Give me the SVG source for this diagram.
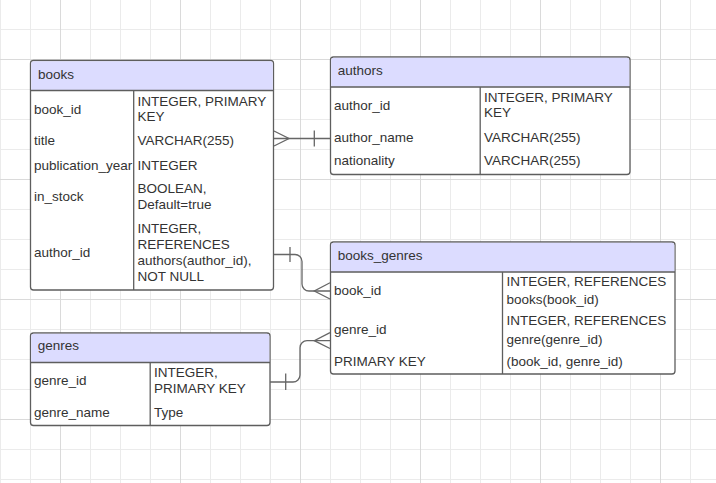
<svg xmlns="http://www.w3.org/2000/svg" width="716" height="483" viewBox="0 0 716 483">
<style>
.minor{stroke:#ebebeb;stroke-width:1;fill:none}
.major{stroke:#dadada;stroke-width:1;fill:none}
.box{fill:#ffffff;stroke:#5e5e5e;stroke-width:1.3}
.hdr{fill:#dcdcff;stroke:none}
.sep{stroke:#5e5e5e;stroke-width:1.3;fill:none}
.t{font-family:"Liberation Sans",Arial,sans-serif;font-size:13.5px;fill:#333333}
.conn{stroke:#666666;stroke-width:1.3;fill:none}
</style>
<rect x="0" y="0" width="716" height="483" fill="#ffffff"/>
<g id="grid">
<path class="minor" d="M0.5 0V483M30.5 0V483M90.5 0V483M120.5 0V483M150.5 0V483M210.5 0V483M240.5 0V483M270.5 0V483M330.5 0V483M360.5 0V483M390.5 0V483M450.5 0V483M480.5 0V483M510.5 0V483M570.5 0V483M600.5 0V483M630.5 0V483M690.5 0V483"/>
<path class="minor" d="M0 29.5H716M0 89.5H716M0 119.5H716M0 149.5H716M0 209.5H716M0 239.5H716M0 269.5H716M0 329.5H716M0 359.5H716M0 389.5H716M0 449.5H716M0 479.5H716"/>
<path class="major" d="M60.5 0V483M180.5 0V483M300.5 0V483M420.5 0V483M540.5 0V483M660.5 0V483M0 59.5H716M0 179.5H716M0 299.5H716M0 419.5H716"/>
</g>
<g id="books">
<rect class="box" x="30.5" y="60.5" width="243" height="229.5" rx="3"/>
<path class="hdr" d="M33.5 61.2H270.5a2.3 2.3 0 0 1 2.3 2.3V90H31.2V63.5a2.3 2.3 0 0 1 2.3-2.3z"/>
<path class="sep" d="M30.5 90.5H273.5M133.7 90.5V290"/>
<text class="t" x="38" y="78.5">books</text>
<text class="t" x="34" y="113.5">book_id</text>
<text class="t" x="137.5" y="105.5">INTEGER, PRIMARY</text>
<text class="t" x="137.5" y="121">KEY</text>
<text class="t" x="34" y="144.5">title</text>
<text class="t" x="137.5" y="144.5">VARCHAR(255)</text>
<text class="t" x="34" y="169.5">publication_year</text>
<text class="t" x="137.5" y="169.5">INTEGER</text>
<text class="t" x="34" y="201">in_stock</text>
<text class="t" x="137.5" y="193">BOOLEAN,</text>
<text class="t" x="137.5" y="209">Default=true</text>
<text class="t" x="34" y="256.5">author_id</text>
<text class="t" x="137.5" y="233">INTEGER,</text>
<text class="t" x="137.5" y="248.5">REFERENCES</text>
<text class="t" x="137.5" y="265">authors(author_id),</text>
<text class="t" x="137.5" y="280.5">NOT NULL</text>
</g>
<g id="authors">
<rect class="box" x="330.5" y="57" width="299.5" height="117.5" rx="3"/>
<path class="hdr" d="M333.5 57.7H627a2.3 2.3 0 0 1 2.3 2.3V86.7H331.2V60a2.3 2.3 0 0 1 2.3-2.3z"/>
<path class="sep" d="M330.5 87H630M480.2 87V174.5"/>
<text class="t" x="337.7" y="75">authors</text>
<text class="t" x="334" y="109.5">author_id</text>
<text class="t" x="484" y="102">INTEGER, PRIMARY</text>
<text class="t" x="484" y="117">KEY</text>
<text class="t" x="334" y="142">author_name</text>
<text class="t" x="484" y="142">VARCHAR(255)</text>
<text class="t" x="334" y="165">nationality</text>
<text class="t" x="484" y="165">VARCHAR(255)</text>
</g>
<g id="books_genres">
<rect class="box" x="330.5" y="242" width="344.5" height="132" rx="3"/>
<path class="hdr" d="M333.5 242.7H672a2.3 2.3 0 0 1 2.3 2.3V271.7H331.2V245a2.3 2.3 0 0 1 2.3-2.3z"/>
<path class="sep" d="M330.5 272H675M502.5 272V374"/>
<text class="t" x="337.7" y="259.5">books_genres</text>
<text class="t" x="334" y="294.5">book_id</text>
<text class="t" x="506.5" y="285.5">INTEGER, REFERENCES</text>
<text class="t" x="506.5" y="303.5">books(book_id)</text>
<text class="t" x="334" y="334">genre_id</text>
<text class="t" x="506.5" y="325">INTEGER, REFERENCES</text>
<text class="t" x="506.5" y="343.5">genre(genre_id)</text>
<text class="t" x="334" y="365.5">PRIMARY KEY</text>
<text class="t" x="506.5" y="365.5">(book_id, genre_id)</text>
</g>
<g id="genres">
<rect class="box" x="30.5" y="333" width="239.5" height="92.5" rx="3"/>
<path class="hdr" d="M33.5 333.7H267a2.3 2.3 0 0 1 2.3 2.3V362.3H31.2V336a2.3 2.3 0 0 1 2.3-2.3z"/>
<path class="sep" d="M30.5 362.5H270M150.2 362.5V425.5"/>
<text class="t" x="37.7" y="350">genres</text>
<text class="t" x="34" y="385">genre_id</text>
<text class="t" x="154" y="377">INTEGER,</text>
<text class="t" x="154" y="393">PRIMARY KEY</text>
<text class="t" x="34" y="417">genre_name</text>
<text class="t" x="154" y="417">Type</text>
</g>
<g id="connectors">
<path class="conn" d="M274 138.5H330"/>
<path class="conn" d="M274 131L289 138.5L274 146"/>
<path class="conn" d="M314.3 130.5V146.5"/>
<path class="conn" d="M274 254.5H295a7 7 0 0 1 7 7V284a7 7 0 0 0 7 7H330"/>
<path class="conn" d="M290 247V262"/>
<path class="conn" d="M330 282.7L314.3 291L330 299"/>
<path class="conn" d="M270 382H293a7 7 0 0 0 7-7V347.7a7 7 0 0 1 7-7H330"/>
<path class="conn" d="M285.7 373.5V390"/>
<path class="conn" d="M330 332.7L314.3 340.7L330 348.5"/>
</g>
</svg>
